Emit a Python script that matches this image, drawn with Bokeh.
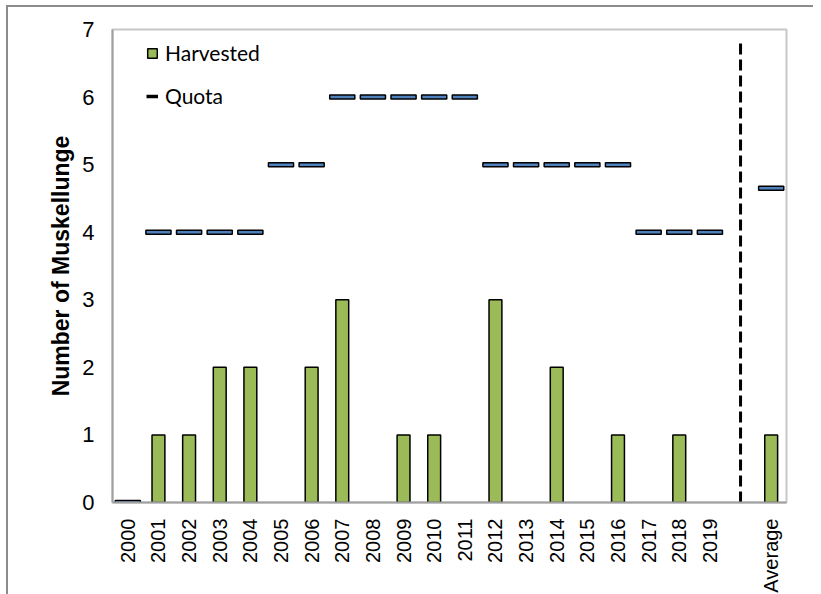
from bokeh.plotting import figure
from bokeh.models import ColumnDataSource, FactorRange, Legend, LegendItem
from bokeh.embed import file_html
from bokeh.resources import INLINE
import math

# ---- data ----
categories = [str(y) for y in range(2000, 2020)] + [" ", "Average"]
years = [str(y) for y in range(2000, 2020)]
harvested = [0, 1, 1, 2, 2, 0, 2, 3, 0, 1, 1, 0, 3, 0, 2, 0, 1, 0, 1, 0]
quota = [0, 4, 4, 4, 4, 5, 5, 6, 6, 6, 6, 6, 5, 5, 5, 5, 5, 4, 4, 4]
avg_harvested = 1
avg_quota = 4.65
y_ticks = [0, 1, 2, 3, 4, 5, 6, 7]
separator_top = 6.8

bar_x = years + ["Average"]
bar_v = harvested + [avg_harvested]
q_x = years + ["Average"]
q_v = quota + [avg_quota]

bar_src = ColumnDataSource(dict(x=[c for c, v in zip(bar_x, bar_v) if v > 0],
                                top=[v for v in bar_v if v > 0]))
q_src = ColumnDataSource(dict(x=q_x, y=q_v))

p = figure(frame_width=674, frame_height=473, x_range=FactorRange(*categories), y_range=(0, 7),
           output_backend="svg", toolbar_location=None,
           min_border_left=104, min_border_right=27, min_border_top=22, min_border_bottom=4)
p.styles = {"margin-left": "6px", "margin-top": "5px",
            "border-left": "2px solid #8c8c8c", "border-top": "2px solid #8c8c8c"}

bars = p.vbar(x="x", top="top", width=0.42, source=bar_src,
              fill_color="#9BBB59", line_color="black", line_width=1.5)
qr = p.rect(x="x", y="y", width=0.82, height=4, height_units="screen", source=q_src,
            fill_color="#4F81BD", line_color="black", line_width=1.5)
p.segment(x0=[" "], y0=[0], x1=[" "], y1=[separator_top], line_color="black",
          line_width=3, line_dash="11 5")
dummy = p.line(x=[" ", " "], y=[float("nan"), float("nan")], line_color="black", line_width=3.5)

p.xgrid.visible = False
p.ygrid.visible = False
p.outline_line_color = "#C8C8C8"
p.outline_line_width = 2

for ax in (p.xaxis, p.yaxis):
    ax.axis_line_color = "#A0A0A0"
    ax.axis_line_width = 2
    ax.major_tick_line_color = None
    ax.minor_tick_line_color = None
    ax.major_label_text_font = "Liberation Sans"
    ax.major_label_text_color = "black"

p.xaxis.major_label_text_font_size = "20px"
p.yaxis.major_label_text_font_size = "22px"
p.yaxis.ticker = y_ticks
p.yaxis.major_label_standoff = 12
p.xaxis.major_label_orientation = math.pi / 2
p.xaxis.major_label_standoff = 10
p.yaxis.axis_label = "Number of Muskellunge"
p.yaxis.axis_label_text_font = "Liberation Sans"
p.yaxis.axis_label_text_font_style = "bold"
p.yaxis.axis_label_text_font_size = "23px"
p.yaxis.axis_label_text_color = "black"
p.yaxis.axis_label_standoff = 5
p.x_range.range_padding = 0
p.x_range.group_padding = 0

legend = Legend(items=[LegendItem(label="Harvested", renderers=[bars]),
                       LegendItem(label="Quota", renderers=[dummy])],
                location=(30, 390), orientation="vertical",
                glyph_width=12, glyph_height=12, label_standoff=7,
                label_text_font="Lato", label_text_font_size="21px",
                label_text_color="black", spacing=18, padding=4, margin=0,
                border_line_alpha=0, background_fill_alpha=0)
p.add_layout(legend)

open("out.html", "w").write(file_html(p, INLINE))
